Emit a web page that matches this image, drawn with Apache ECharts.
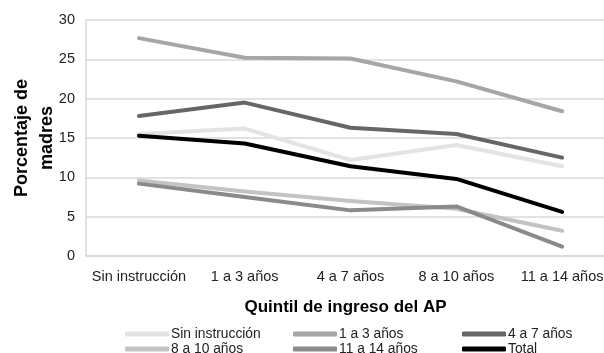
<!DOCTYPE html>
<html>
<head>
<meta charset="utf-8">
<script src="https://cdn.jsdelivr.net/npm/echarts@6/dist/echarts.min.js"></script>
<style>
html,body{margin:0;padding:0;background:#fff;}
#chart{width:604px;height:353px;}
</style>
</head>
<body>
<div id="chart"></div>
<script>
// Nivel de instrucción de la madre por quintil de ingreso
const categories = ['Sin instrucción', '1 a 3 años', '4 a 7 años', '8 a 10 años', '11 a 14 años'];
const seriesNames = ['Sin instrucción', '1 a 3 años', '4 a 7 años', '8 a 10 años', '11 a 14 años', 'Total'];
const sinInstruccion = [15.5, 16.2, 12.2, 14.1, 11.4];
const anos1a3 = [27.7, 25.2, 25.1, 22.2, 18.4];
const anos4a7 = [17.8, 19.5, 16.3, 15.5, 12.5];
const anos8a10 = [9.6, 8.2, 7.0, 6.0, 3.2];
const anos11a14 = [9.2, 7.5, 5.8, 6.3, 1.2];
const total = [15.3, 14.3, 11.4, 9.8, 5.6];
const yTicks = [0, 5, 10, 15, 20, 25, 30];

const values = [sinInstruccion, anos1a3, anos4a7, anos8a10, anos11a14, total];
const colors = ['#e3e3e3', '#a6a6a6', '#666666', '#c3c3c3', '#8a8a8a', '#000000'];

const font = 'Liberation Sans, Arial, sans-serif';

// legend placement: three columns, two rows
const legendCols = [125, 293, 462];
const legendRows = [327, 342];
const legends = seriesNames.map((name, i) => ({
  data: [name],
  left: legendCols[i % 3],
  top: legendRows[Math.floor(i / 3)],
  itemWidth: 44,
  itemHeight: 5,
  itemGap: 0,
  padding: 0,
  icon: 'roundRect',
  selectedMode: false,
  textStyle: { fontFamily: font, fontSize: 13.8, color: '#222', padding: [0, 0, 0, -3] }
}));

const chart = echarts.init(document.getElementById('chart'), null, { renderer: 'canvas' });
chart.setOption({
  animation: false,
  color: colors,
  grid: { left: 86, right: -11, top: 20, bottom: 97, containLabel: false, outerBoundsMode: 'none' },
  legend: legends,
  xAxis: {
    type: 'category',
    data: categories,
    boundaryGap: true,
    name: 'Quintil de ingreso del AP',
    nameLocation: 'middle',
    nameGap: 43,
    nameMoveOverlap: false,
    nameTextStyle: { fontFamily: font, fontSize: 17, fontWeight: 'bold', color: '#000', padding: [0, 0, 0, -10] },
    axisLine: { show: true, lineStyle: { color: '#d9d9d9', width: 1.5 } },
    axisTick: { show: false },
    axisLabel: { fontFamily: font, fontSize: 14.5, color: '#222', margin: 13, interval: 0 }
  },
  yAxis: {
    type: 'value',
    min: yTicks[0],
    max: yTicks[yTicks.length - 1],
    interval: 5,
    name: 'Porcentaje de\nmadres',
    nameLocation: 'middle',
    nameGap: 26,
    nameMoveOverlap: false,
    nameTextStyle: { fontFamily: font, fontSize: 18, fontWeight: 'bold', color: '#000', lineHeight: 25 },
    axisLine: { show: true, lineStyle: { color: '#d9d9d9', width: 1.5 } },
    axisTick: { show: false },
    axisLabel: { fontFamily: font, fontSize: 14.5, color: '#222', margin: 11 },
    splitLine: { lineStyle: { color: '#d9d9d9', width: 1.5 } }
  },
  series: seriesNames.map((name, i) => ({
    name: name,
    type: 'line',
    data: values[i],
    symbol: 'none',
    lineStyle: { width: 4, color: colors[i], cap: 'round', join: 'round' },
    z: i + 2
  }))
});
</script>
</body>
</html>
